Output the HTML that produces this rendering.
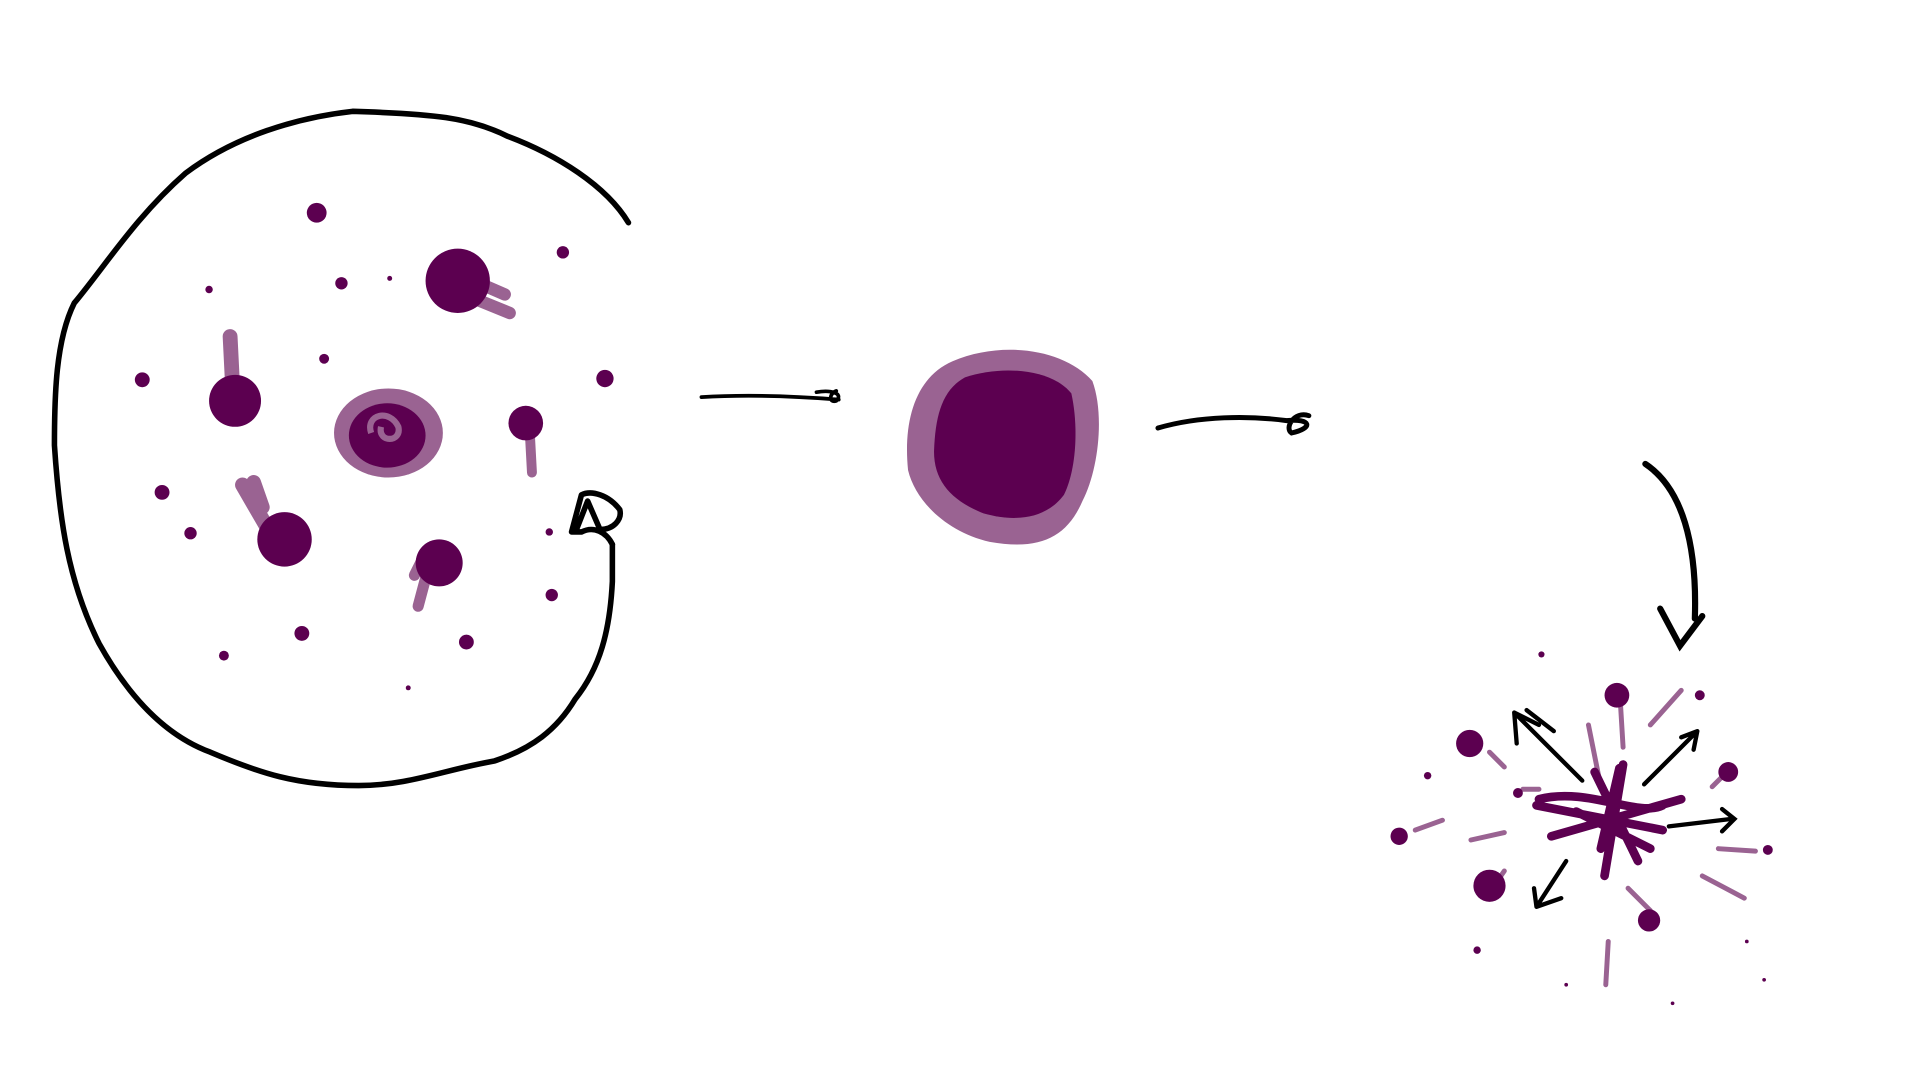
<!DOCTYPE html>
<html><head><meta charset="utf-8"><style>html,body{margin:0;padding:0;background:#fff;width:1920px;height:1080px;overflow:hidden}svg{display:block}</style></head>
<body>
<svg width="1920" height="1080" viewBox="0 0 1552 873" preserveAspectRatio="none" xmlns="http://www.w3.org/2000/svg">
<rect width="1552" height="873" fill="#fff"/>
<g fill="none" stroke="#000" stroke-width="4.5" stroke-linecap="round" stroke-linejoin="round">
<path d="M508,180 C490,150 450,125 410,110 C380,95 350,92 285,90 C240,95 190,110 150,140 C110,175 85,215 60,245 C45,275 44,320 44,360 C48,420 55,470 80,520 C105,565 135,595 170,608 C210,625 240,635 290,635 C330,635 360,622 400,615 C430,605 450,590 465,565 C485,540 493,510 495,470 L495,440"/>
<path d="M495,440 C490,430 480,425 470,430 L462,430 L470,400 C478,396 492,400 501,412 C503,420 496,428 485,428 L475,405 L466,428"/>
</g>
<g fill="none" stroke="#9a6392" stroke-linecap="round">
<path d="M380,240 L412,253 M385,228 L408,238" stroke-width="10"/>
<path d="M186,272 L188,312" stroke-width="12"/>
<path d="M196,392 L218,430 M205,390 L212,410" stroke-width="12"/>
<path d="M335,465 L345,445 M338,490 L346,460" stroke-width="9"/>
<path d="M428,345 L430,382" stroke-width="8"/>
</g>
<g fill="#5c0050">
<circle cx="370" cy="227" r="26"/>
<circle cx="190" cy="324" r="21"/>
<circle cx="230" cy="436" r="22"/>
<circle cx="355" cy="455" r="19"/>
<circle cx="425" cy="342" r="14"/>
<circle cx="256" cy="172" r="8"/><circle cx="455" cy="204" r="5"/><circle cx="276" cy="229" r="5"/>
<circle cx="169" cy="234" r="3"/><circle cx="315" cy="225" r="2"/><circle cx="262" cy="290" r="4"/>
<circle cx="115" cy="307" r="6"/><circle cx="489" cy="306" r="7"/><circle cx="131" cy="398" r="6"/>
<circle cx="154" cy="431" r="5"/><circle cx="444" cy="430" r="3"/><circle cx="446" cy="481" r="5"/>
<circle cx="244" cy="512" r="6"/><circle cx="377" cy="519" r="6"/><circle cx="181" cy="530" r="4"/>
<circle cx="330" cy="556" r="2"/>
</g>
<g>
<ellipse cx="314" cy="350" rx="44" ry="36" fill="#9a6392"/>
<ellipse cx="313" cy="352" rx="31" ry="26" fill="#5c0050"/>
<path d="M300,350 C295,335 315,330 322,345 C325,358 305,358 308,345" fill="none" stroke="#9a6392" stroke-width="5"/>
</g>
<g fill="none" stroke="#000" stroke-width="3" stroke-linecap="round">
<path d="M567,321 C600,319 640,320 678,323 M660,317 C672,315 682,318 676,324 C670,326 670,318 676,316"/>
<path d="M936,346 C970,336 1010,336 1040,340 C1060,338 1062,346 1044,350 C1038,346 1046,332 1058,336" stroke-width="4"/>
<path d="M1330,375 C1360,395 1372,440 1370,500 M1342,492 L1358,522 L1376,498" stroke-width="5"/>
</g>
<g>
<path d="M770,292 C810,275 860,282 883,308 C893,335 888,380 875,405 C862,435 840,445 800,438 C765,430 740,405 734,380 C730,340 740,305 770,292Z" fill="#9a6392"/>
<path d="M780,305 C810,295 850,298 866,318 C872,345 870,380 860,400 C845,420 820,422 795,415 C770,405 755,390 755,365 C756,335 762,315 780,305Z" fill="#5c0050"/>
</g>
<g transform="translate(-6,-4)">
<g fill="none" stroke="#9a6392" stroke-linecap="round" stroke-width="4">
<path d="M1316,575 L1318,608 M1340,590 L1365,562 M1290,590 L1300,640 M1400,630 L1390,640 M1210,612 L1222,624 M1237,642 L1250,642 M1150,675 L1172,667 M1195,683 L1222,677 M1395,690 L1425,692 M1382,712 L1416,730 M1322,722 L1340,740 M1222,708 L1215,718 M1306,765 L1304,800"/>
</g>
<g fill="#5c0050">
<circle cx="1313" cy="566" r="10"/><circle cx="1194" cy="605" r="11"/><circle cx="1403" cy="628" r="8"/>
<circle cx="1210" cy="720" r="13"/><circle cx="1339" cy="748" r="9"/><circle cx="1137" cy="680" r="7"/>
<circle cx="1380" cy="566" r="4"/><circle cx="1160" cy="631" r="3"/><circle cx="1252" cy="533" r="2.5"/>
<circle cx="1233" cy="645" r="4"/><circle cx="1435" cy="691" r="4"/><circle cx="1200" cy="772" r="3"/>
<circle cx="1418" cy="765" r="1.5"/><circle cx="1432" cy="796" r="1.5"/><circle cx="1272" cy="800" r="1.5"/><circle cx="1358" cy="815" r="1.5"/>
</g>
<g fill="none" stroke="#5c0050" stroke-width="7" stroke-linecap="round">
<path d="M1248,655 L1350,675 M1260,680 L1365,650 M1318,622 L1303,712 M1295,628 L1330,700 M1250,650 C1290,640 1330,665 1350,655 M1280,660 L1340,690 M1315,625 L1300,690"/>
</g>
<g fill="none" stroke="#000" stroke-width="3.5" stroke-linecap="round">
<path d="M1285,635 L1230,580 M1230,580 L1232,605 M1230,580 L1250,590 M1240,578 L1262,595"/>
<path d="M1335,638 L1378,595 M1378,595 L1365,600 M1378,595 L1375,610"/>
<path d="M1355,672 L1405,666 M1398,658 L1408,666 L1398,676"/>
<path d="M1272,700 L1248,737 M1248,737 L1246,722 M1248,737 L1268,730"/>
</g>
</g>
</svg>
</body></html>
